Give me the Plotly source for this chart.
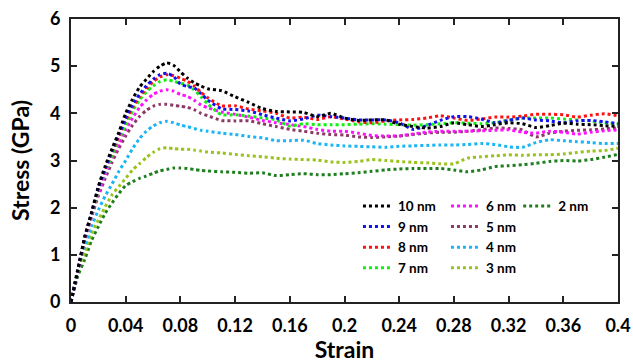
import plotly.graph_objects as go

strain = [0, 0.005, 0.01, 0.015, 0.02, 0.025, 0.03, 0.035, 0.04, 0.045, 0.05, 0.055, 0.06, 0.065,
          0.07, 0.075, 0.08, 0.085, 0.09, 0.095, 0.10, 0.11, 0.12, 0.13, 0.14, 0.15, 0.16, 0.17,
          0.18, 0.19, 0.20, 0.21, 0.22, 0.23, 0.24, 0.25, 0.26, 0.27, 0.28, 0.29, 0.30, 0.31,
          0.32, 0.33, 0.34, 0.35, 0.36, 0.37, 0.38, 0.39, 0.40]

s10 = [0, 0.68, 1.38, 1.90, 2.45, 2.88, 3.25, 3.60, 4.00, 4.30, 4.55, 4.72, 4.88, 5.00, 5.07, 5.02,
       4.88, 4.75, 4.65, 4.58, 4.52, 4.48, 4.35, 4.23, 4.10, 4.04, 4.03, 4.02, 3.93, 4.00, 3.90,
       3.85, 3.86, 3.86, 3.77, 3.72, 3.69, 3.72, 3.80, 3.76, 3.72, 3.76, 3.80, 3.78, 3.70, 3.74,
       3.79, 3.77, 3.76, 3.74, 3.72]
s9 = [0, 0.67, 1.37, 1.88, 2.42, 2.84, 3.20, 3.55, 3.90, 4.18, 4.40, 4.58, 4.72, 4.82, 4.85, 4.78,
      4.62, 4.57, 4.54, 4.42, 4.28, 4.10, 4.08, 4.05, 3.97, 3.90, 3.84, 3.88, 3.96, 3.93, 3.90,
      3.86, 3.86, 3.86, 3.80, 3.66, 3.74, 3.85, 3.93, 3.93, 3.88, 3.80, 3.85, 3.90, 3.86, 3.84,
      3.80, 3.84, 3.85, 3.82, 3.78]
s8 = [0, 0.67, 1.36, 1.87, 2.40, 2.80, 3.18, 3.52, 3.85, 4.12, 4.35, 4.52, 4.67, 4.77, 4.82, 4.80,
      4.74, 4.68, 4.58, 4.45, 4.33, 4.16, 4.16, 4.09, 4.05, 4.00, 3.90, 3.92, 3.87, 3.93, 3.88,
      3.82, 3.80, 3.84, 3.86, 3.87, 3.90, 3.95, 3.90, 3.85, 3.88, 3.92, 3.92, 3.94, 3.98, 3.98,
      3.97, 3.92, 3.96, 3.99, 3.95]
s7 = [0, 0.66, 1.35, 1.85, 2.35, 2.75, 3.12, 3.45, 3.75, 4.05, 4.28, 4.45, 4.58, 4.67, 4.71, 4.68,
      4.64, 4.60, 4.50, 4.35, 4.20, 3.97, 3.97, 3.94, 3.90, 3.86, 3.73, 3.78, 3.76, 3.76, 3.76,
      3.77, 3.78, 3.77, 3.76, 3.75, 3.76, 3.78, 3.80, 3.79, 3.78, 3.80, 3.86, 3.90, 3.90, 3.90,
      3.88, 3.86, 3.84, 3.80, 3.78]
s6 = [0, 0.66, 1.34, 1.83, 2.30, 2.70, 3.05, 3.37, 3.65, 3.90, 4.12, 4.28, 4.40, 4.47, 4.50, 4.47,
      4.40, 4.36, 4.28, 4.18, 4.12, 4.03, 3.98, 3.92, 3.85, 3.80, 3.76, 3.72, 3.66, 3.62, 3.62,
      3.58, 3.53, 3.52, 3.52, 3.56, 3.60, 3.62, 3.62, 3.62, 3.63, 3.64, 3.65, 3.60, 3.58, 3.62,
      3.60, 3.56, 3.60, 3.63, 3.65]
s5 = [0, 0.65, 1.32, 1.80, 2.25, 2.62, 2.96, 3.26, 3.52, 3.75, 3.93, 4.06, 4.15, 4.19, 4.19, 4.17,
      4.15, 4.13, 4.08, 4.00, 3.95, 3.85, 3.84, 3.84, 3.78, 3.72, 3.66, 3.62, 3.58, 3.55, 3.54,
      3.50, 3.49, 3.50, 3.52, 3.55, 3.58, 3.60, 3.60, 3.62, 3.65, 3.69, 3.68, 3.65, 3.50, 3.58,
      3.62, 3.64, 3.65, 3.67, 3.69]
s4 = [0, 0.68, 1.18, 1.60, 1.95, 2.25, 2.50, 2.77, 3.00, 3.25, 3.46, 3.62, 3.73, 3.80, 3.83, 3.80,
      3.75, 3.72, 3.68, 3.64, 3.62, 3.58, 3.55, 3.51, 3.48, 3.42, 3.42, 3.43, 3.36, 3.33, 3.31,
      3.30, 3.29, 3.28, 3.30, 3.31, 3.32, 3.33, 3.33, 3.34, 3.36, 3.34, 3.29, 3.28, 3.38, 3.44,
      3.42, 3.40, 3.38, 3.36, 3.36]
s3 = [0, 0.70, 1.05, 1.45, 1.74, 2.02, 2.27, 2.45, 2.62, 2.80, 2.93, 3.06, 3.17, 3.25, 3.27, 3.25,
      3.24, 3.24, 3.22, 3.20, 3.18, 3.16, 3.13, 3.10, 3.08, 3.05, 3.03, 3.02, 3.01, 2.97, 2.96,
      2.98, 3.02, 3.00, 2.98, 2.96, 2.95, 2.93, 2.93, 3.05, 3.08, 3.10, 3.12, 3.11, 3.12, 3.12,
      3.14, 3.17, 3.20, 3.21, 3.26]
s2 = [0, 0.55, 0.90, 1.30, 1.60, 1.88, 2.10, 2.30, 2.47, 2.55, 2.62, 2.67, 2.73, 2.78, 2.81, 2.84,
      2.84, 2.83, 2.81, 2.79, 2.78, 2.76, 2.75, 2.73, 2.74, 2.68, 2.70, 2.72, 2.70, 2.70, 2.72,
      2.74, 2.77, 2.80, 2.82, 2.83, 2.83, 2.83, 2.80, 2.76, 2.80, 2.87, 2.89, 2.91, 2.94, 2.98,
      3.00, 2.99, 3.02, 3.07, 3.13]

names = ["10 nm", "9 nm", "8 nm", "7 nm", "6 nm", "5 nm", "4 nm", "3 nm", "2 nm"]
series = [s10, s9, s8, s7, s6, s5, s4, s3, s2]
colors = ["#000000", "#1010F0", "#FF1010", "#10F010", "#FF10FF", "#8B3A66", "#19B5F5", "#99C21A", "#1F7F1F"]
legend_ids = ["legend", "legend", "legend", "legend", "legend2", "legend2", "legend2", "legend2", "legend3"]

xtick_vals = [0, 0.04, 0.08, 0.12, 0.16, 0.2, 0.24, 0.28, 0.32, 0.36, 0.4]
xtick_text = ["0", "0.04", "0.08", "0.12", "0.16", "0.2", "0.24", "0.28", "0.32", "0.36", "0.4"]
ytick_vals = [0, 1, 2, 3, 4, 5, 6]

FONT = "Lato"

fig = go.Figure()
for name, ys, col, lg in reversed(list(zip(names, series, colors, legend_ids))):
    fig.add_trace(go.Scatter(
        x=strain, y=ys, mode="lines", name=name, legend=lg,
        line=dict(color=col, width=3, dash="dot", shape="spline", smoothing=0.6),
    ))

axis_common = dict(
    showline=True, linecolor="#222222", linewidth=2, mirror="ticks",
    ticks="inside", ticklen=6, tickwidth=1.5, tickcolor="#222222",
    showgrid=False, zeroline=False, automargin=False,
    tickfont=dict(family=FONT, size=18, color="#000000", weight="bold"),
)

legend_font = dict(family=FONT, size=13.5, color="#000000", weight="bold")

fig.update_layout(
    width=633, height=363,
    margin=dict(l=71, r=15, t=19, b=61),
    paper_bgcolor="white", plot_bgcolor="white",
    xaxis=dict(range=[0, 0.4], tickvals=xtick_vals, ticktext=xtick_text, ticklabelstandoff=6,
               title=dict(text="Strain", font=dict(family=FONT, size=23, color="#000000", weight="bold"), standoff=20),
               **axis_common),
    yaxis=dict(range=[0, 6], tickvals=ytick_vals, ticklabelstandoff=5,
               title=dict(text="Stress (GPa)", font=dict(family=FONT, size=23, color="#000000", weight="bold"), standoff=14),
               **axis_common),
    legend=dict(x=0.5246, y=0.393, xanchor="left", yanchor="top", bgcolor="rgba(0,0,0,0)",
                font=legend_font, tracegroupgap=0, traceorder="reversed"),
    legend2=dict(x=0.6855, y=0.393, xanchor="left", yanchor="top", bgcolor="rgba(0,0,0,0)",
                 font=legend_font, tracegroupgap=0, traceorder="reversed"),
    legend3=dict(x=0.8175, y=0.393, xanchor="left", yanchor="top", bgcolor="rgba(0,0,0,0)",
                 font=legend_font, tracegroupgap=0),
    showlegend=True,
)

fig.write_html("out.html")
